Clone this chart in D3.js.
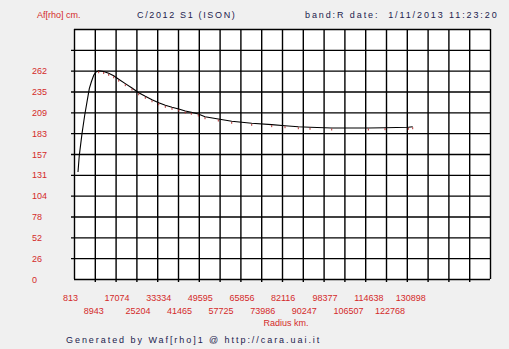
<!DOCTYPE html>
<html><head><meta charset="utf-8">
<script src="https://cdn.jsdelivr.net/npm/d3@7"></script>
<style>
html,body{margin:0;padding:0;background:#f0f0f0;}
svg{display:block;}
text{font-family:"Liberation Sans",Arial,sans-serif;font-size:9px;}
</style></head>
<body>
<script>
// ---- data ----
const xTickLabels = [813, 8943, 17074, 25204, 33334, 41465, 49595, 57725, 65856, 73986, 82116, 90247, 98377, 106507, 114638, 122768, 130898];
const xStep = 8130.3;
const xGridCount = 20;
const yTickLabels = [0, 26, 52, 78, 104, 131, 157, 183, 209, 235, 262];
const yStep = 26.16;
const yGridCount = 12;
const radius = [2377, 2885, 3940, 4996, 5895, 6794, 7576, 8514, 9413, 10468, 12423, 14377, 16332, 18286, 20866, 23485, 26104, 28684, 31303, 33922, 36502, 39121, 41740, 44320, 46665, 49401, 52020, 57219, 62457, 70275, 78093, 83292, 88491, 93064, 101547, 115854, 122382, 131490, 133210];
const afrho = [134.4, 155.3, 182.5, 205.6, 222.3, 239.0, 247.4, 255.8, 259.9, 261.5, 260.5, 258.3, 255.2, 250.9, 245.3, 239.8, 233.9, 229.4, 225.1, 221.4, 218.1, 215.6, 213.5, 211.0, 209.3, 207.2, 203.8, 200.9, 198.0, 195.5, 193.8, 192.5, 191.2, 190.5, 189.6, 189.6, 190.0, 190.5, 191.2];
const titleLeft = "Af[rho] cm.";
const titleMid = "C/2012 S1 (ISON)";
const titleRight = "band:R date:  1/11/2013 11:23:20";
const xLabel = "Radius km.";
const footer = "Generated by Waf[rho]1 @ http://cara.uai.it";

// ---- layout ----
const W = 509, H = 349;
const L = 74, R = 490, T = 29, B = 279;
const red = "#d42a2a", navy = "#22224e";

const svg = d3.select("body").append("svg").attr("width", W).attr("height", H);

const x = d3.scaleLinear().domain([xTickLabels[0], xTickLabels[0] + xGridCount * xStep]).range([L, R]);
const y = d3.scaleLinear().domain([0, yGridCount * yStep]).range([B, T]);

svg.append("rect").attr("x", L).attr("y", T).attr("width", R - L).attr("height", B - T).attr("fill", "#fff");

const xGrid = d3.range(0, xGridCount + 1).map(i => xTickLabels[0] + i * xStep);
const yGrid = d3.range(0, yGridCount + 1).map(i => i * yStep);

// vertical grid via axis
const gx = svg.append("g").attr("transform", `translate(0,${B})`)
  .call(d3.axisBottom(x).tickValues(xGrid).tickSize(-(B - T)).tickFormat(""));
gx.select(".domain").remove();
gx.selectAll(".tick line").attr("stroke", "#000").attr("stroke-width", 1.4)
  .attr("y1", (d, i) => (i > 0 && i < xGridCount) ? 3 : 0);

const gy = svg.append("g").attr("transform", `translate(${L},0)`)
  .call(d3.axisLeft(y).tickValues(yGrid).tickSize(-(R - L)).tickFormat(""));
gy.select(".domain").remove();
gy.selectAll(".tick line").attr("stroke", "#000").attr("stroke-width", 1.4)
  .attr("x1", (d, i) => (i > 0 && i < yGridCount) ? -3 : 0);

// x tick labels (alternating rows)
svg.append("g").selectAll("text").data(xTickLabels).join("text")
  .attr("x", (d, i) => x(xTickLabels[0] + i * xStep) - 11)
  .attr("y", (d, i) => i % 2 === 0 ? 301 : 313.5)
  .attr("fill", red).text(d => d);

// y tick labels
svg.append("g").selectAll("text").data(yTickLabels).join("text")
  .attr("x", 32).attr("y", (d, i) => y(i * yStep) + 3.5)
  .attr("fill", red).text(d => d);

// curve
const pts = radius.map((r, i) => [r, afrho[i]]);
svg.append("path").datum(pts)
  .attr("d", d3.line().x(d => x(d[0])).y(d => y(d[1])))
  .attr("fill", "none").attr("stroke", "#000").attr("stroke-width", 1.1);

svg.append("g").selectAll("line").data(pts.slice(9)).join("line")
  .attr("x1", d => x(d[0])).attr("x2", d => x(d[0]))
  .attr("y1", d => y(d[1]) + 0.5).attr("y2", d => y(d[1]) + 2.5)
  .attr("stroke", "#b03030").attr("stroke-width", 1);

// texts
svg.append("text").attr("x", 37).attr("y", 18).attr("fill", red).attr("letter-spacing", 0).text(titleLeft);
svg.append("text").attr("x", 137).attr("y", 18).attr("fill", navy).attr("letter-spacing", 1.65).text(titleMid);
svg.append("text").attr("x", 305).attr("y", 18).attr("fill", navy).attr("letter-spacing", 1.9).style("white-space", "pre").text(titleRight);
svg.append("text").attr("x", 286).attr("y", 325.5).attr("text-anchor", "middle").attr("fill", red).text(xLabel);
svg.append("text").attr("x", 66).attr("y", 342.5).attr("fill", navy).attr("letter-spacing", 1.95).text(footer);
</script>
</body></html>
